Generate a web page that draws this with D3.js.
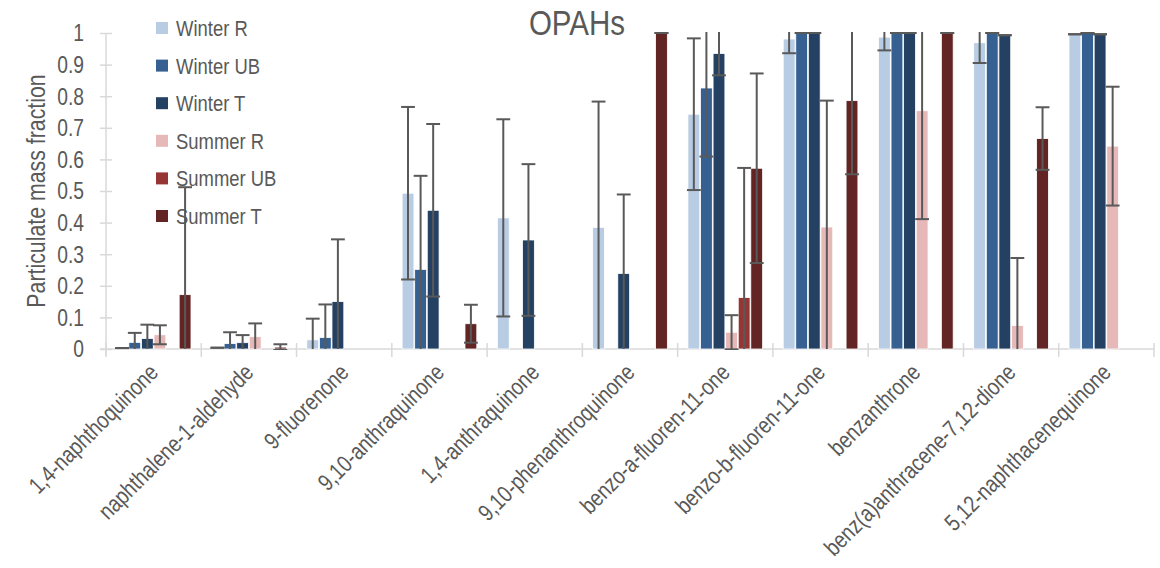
<!DOCTYPE html>
<html>
<head>
<meta charset="utf-8">
<script src="https://d3js.org/d3.v7.min.js"></script>
<style>
  body { margin: 0; background: #fff; }
  svg { font-family: "Liberation Sans", Arial, sans-serif; }
  .axis path, .axis line { stroke: #d9d9d9; stroke-width: 1.5; }
  text { fill: #595959; }
</style>
</head>
<body>
<script>

// categories and series
var compounds = ["1,4-naphthoquinone", "naphthalene-1-aldehyde", "9-fluorenone", "9,10-anthraquinone",
  "1,4-anthraquinone", "9,10-phenanthroquinone", "benzo-a-fluoren-11-one", "benzo-b-fluoren-11-one",
  "benzanthrone", "benz(a)anthracene-7,12-dione", "5,12-naphthacenequinone"];
var seriesNames = ["Winter R", "Winter UB", "Winter T", "Summer R", "Summer UB", "Summer T"];
var seriesColors = ["#b8cce4", "#366092", "#244062", "#e6b8b7", "#963634", "#632523"];
var yTicks = [0, 0.1, 0.2, 0.3, 0.4, 0.5, 0.6, 0.7, 0.8, 0.9, 1];

// values, one array per series (same order as compounds)
var winterR  = [0.003, 0.004, 0.029, 0.493, 0.415, 0.385, 0.743, 0.981, 0.987, 0.969, 0.996];
var winterUB = [0.021, 0.017, 0.036, 0.252, 0,     0,     0.826, 1,     1,     1,     1];
var winterT  = [0.033, 0.020, 0.150, 0.439, 0.345, 0.239, 0.935, 1,     1,     0.993, 0.996];
var summerR  = [0.045, 0.039, 0,     0,     0,     0,     0.053, 0.386, 0.754, 0.074, 0.642];
var summerUB = [0,     0,     0,     0,     0,     0,     0.163, 0,     0,     0,     0];
var summerT  = [0.172, 0.006, 0,     0.080, 0,     1,     0.572, 0.786, 1,     0.666, 0];

// symmetric error amounts
var winterRErr  = [0,     0,     0.067, 0.273, 0.312, 0.398, 0.240, 0.045, 0.042, 0.064, 0];
var winterUBErr = [0.030, 0.036, 0.105, 0.296, 0,     0,     0.217, 0,     0,     0,     0];
var winterTErr  = [0.044, 0.024, 0.197, 0.273, 0.240, 0.250, 0.069, 0,     0,     0,     0];
var summerRErr  = [0.030, 0.042, 0,     0,     0,     0,     0.054, 0.400, 0.343, 0.214, 0.188];
var summerUBErr = [0,     0,     0,     0,     0,     0,     0.410, 0,     0,     0,     0];
var summerTErr  = [0.340, 0.009, 0,     0.060, 0,     0,     0.300, 0.233, 0,     0.099, 0];

var values = [winterR, winterUB, winterT, summerR, summerUB, summerT];
var errors = [winterRErr, winterUBErr, winterTErr, summerRErr, summerUBErr, summerTErr];

var width = 1160, height = 568;
var margin = {top: 33, right: 6, bottom: 219, left: 106};
var innerW = width - margin.left - margin.right,
    innerH = height - margin.top - margin.bottom;
var sq = 0.82; // horizontal squeeze to look like a narrow face

var svg = d3.select("body").append("svg")
    .attr("width", width)
    .attr("height", height);

var g = svg.append("g")
    .attr("transform", "translate(" + margin.left + "," + margin.top + ")");

var x0 = d3.scaleBand().domain(compounds).range([0, innerW]).paddingInner(0.2).paddingOuter(0.1);
var x1 = d3.scaleBand().domain(seriesNames).range([0, x0.bandwidth()]).padding(0.06);
var y = d3.scaleLinear().domain([0, 1]).range([innerH, 0]);

// flatten to rows
var rows = [];
compounds.forEach(function(c, i) {
  seriesNames.forEach(function(s, j) {
    rows.push({compound: c, series: s, k: j, v: values[j][i], e: errors[j][i]});
  });
});

// y axis
var yAxis = g.append("g").attr("class", "axis")
    .call(d3.axisLeft(y).tickValues(yTicks).tickSize(6).tickFormat(""));
yAxis.selectAll(".tick line").attr("x2", 6).attr("x1", -6);
yAxis.select(".domain").attr("d", "M0," + y(1) + "V" + (innerH + 6));

g.selectAll(".ylab")
  .data(yTicks)
  .enter().append("text")
    .attr("class", "ylab")
    .attr("transform", function(d) { return "translate(-22," + (y(d) + 8.3) + ") scale(" + sq + ",1)"; })
    .attr("text-anchor", "end")
    .style("font-size", "23.5px")
    .text(d3.format("~g"));

// x axis line with category separators
var xa = g.append("g").attr("class", "axis");
xa.append("line").attr("x1", -6).attr("x2", innerW).attr("y1", innerH).attr("y2", innerH);
xa.selectAll(".sep")
  .data(d3.range(compounds.length + 1))
  .enter().append("line")
    .attr("x1", function(i) { return i * x0.step(); })
    .attr("x2", function(i) { return i * x0.step(); })
    .attr("y1", innerH - 6)
    .attr("y2", innerH + 8);

// bars
g.append("defs").append("clipPath").attr("id", "plot")
  .append("rect").attr("x", -10).attr("y", -1).attr("width", innerW + 20).attr("height", innerH + 2);

g.append("g").selectAll("rect")
  .data(rows.filter(function(d) { return d.v > 0; }))
  .enter().append("rect")
    .attr("x", function(d) { return x0(d.compound) + x1(d.series); })
    .attr("y", function(d) { return y(d.v); })
    .attr("width", x1.bandwidth())
    .attr("height", function(d) { return innerH - y(d.v); })
    .attr("fill", function(d) { return seriesColors[d.k]; })
    .attr("stroke", "#fff")
    .attr("stroke-width", 0.8);

// error bars
var errG = g.append("g").attr("clip-path", "url(#plot)")
    .attr("stroke", "#595959").attr("stroke-width", 2);
rows.filter(function(d) { return d.v > 0 || d.e > 0; }).forEach(function(d) {
  var cx = x0(d.compound) + x1(d.series) + x1.bandwidth() / 2;
  var hw = x1.bandwidth() / 2 + 1;
  var hi = d.v + d.e, lo = d.v - d.e;
  errG.append("line").attr("x1", cx).attr("x2", cx)
    .attr("y1", y(Math.min(hi, 1.2))).attr("y2", y(Math.max(lo, 0)));
  if (hi <= 1.003) {
    errG.append("line").attr("x1", cx - hw).attr("x2", cx + hw).attr("y1", y(hi)).attr("y2", y(hi));
  }
  if (lo >= -0.003) {
    errG.append("line").attr("x1", cx - hw).attr("x2", cx + hw).attr("y1", y(lo)).attr("y2", y(lo));
  }
});

// category labels
g.selectAll(".xlab")
  .data(compounds)
  .enter().append("text")
    .attr("class", "xlab")
    .attr("transform", function(d) {
      return "translate(" + (x0(d) + x0.bandwidth() / 2 + 6) + "," + (innerH + 25) + ") rotate(-45) scale(" + sq + ",1)";
    })
    .attr("text-anchor", "end")
    .style("font-size", "23.5px")
    .text(function(d) { return d; });

// y label
svg.append("text")
    .attr("transform", "translate(45," + (margin.top + innerH / 2) + ") rotate(-90) scale(" + sq + ",1)")
    .attr("text-anchor", "middle")
    .style("font-size", "26px")
    .text("Particulate mass fraction");

// title
svg.append("text")
    .attr("transform", "translate(577,35) scale(" + sq + ",1)")
    .attr("text-anchor", "middle")
    .style("font-size", "36px")
    .text("OPAHs");

// legend
var legend = svg.append("g").selectAll("g")
  .data(seriesNames)
  .enter().append("g")
    .attr("transform", function(d, i) { return "translate(156," + (28 + i * 37.6) + ")"; });
legend.append("rect")
    .attr("x", 0).attr("y", -6).attr("width", 12).attr("height", 12)
    .attr("fill", function(d, i) { return seriesColors[i]; });
legend.append("text")
    .attr("transform", "translate(20,8) scale(" + sq + ",1)")
    .style("font-size", "22.5px")
    .text(function(d) { return d; });

</script>
</body>
</html>
